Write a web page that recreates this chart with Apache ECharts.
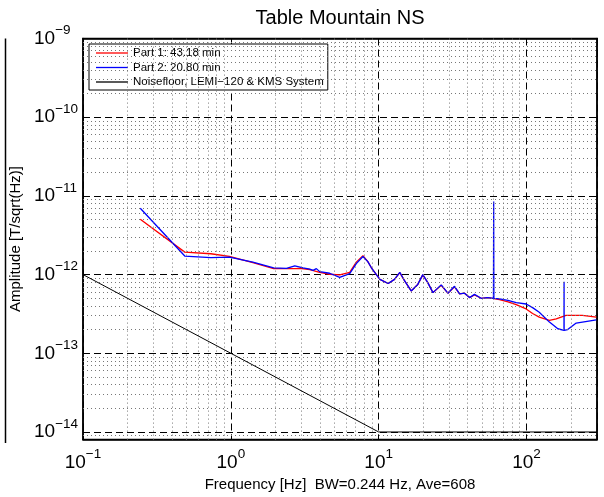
<!DOCTYPE html>
<html><head><meta charset="utf-8">
<script src="https://cdn.jsdelivr.net/npm/echarts@6/dist/echarts.min.js"></script>
<style>html,body{margin:0;padding:0;background:#fff}#c{width:604px;height:497px}</style>
</head><body><div id="c"></div>
<script>
const titleText = 'Table Mountain NS';
const xName = 'Frequency [Hz]  BW=0.244 Hz, Ave=608';
const yName = 'Amplitude [T/sqrt(Hz)]';
const seriesNames = ['Part 1: 43.18 min', 'Part 2: 20.80 min', 'Noisefloor, LEMI\u2212120 & KMS System'];
const seriesColors = ['#ff0000', '#0000ff', '#000000'];

// Part 1 (red): frequency [Hz], amplitude [1e-12 T/sqrt(Hz)]
const freq1 = [0.244,0.488,0.732,0.977,1.41,1.95,2.38,2.71,2.93,3.42,3.99,4.66,5.45,6.37,7.06,7.83,8.45,8.93,10.2,11.6,12.8,13.9,15.0,16.6,18.4,19.9,21.5,23.3,26.5,29.4,32.6,35.3,38.1,41.2,44.5,49.4,54.6,59.0,65.7,75,85.2,99.5,110,122,143,159,185,239,297];
const part1 = [5.06,1.93,1.84,1.70,1.42,1.19,1.19,1.19,1.20,1.16,1.07,1.01,0.99,1.07,1.44,1.74,1.46,1.22,0.87,0.77,0.87,1.06,0.83,0.62,0.75,0.99,0.79,0.59,0.73,0.58,0.70,0.57,0.58,0.51,0.55,0.50,0.51,0.50,0.48,0.45,0.415,0.366,0.32,0.288,0.262,0.274,0.303,0.303,0.288];

// Part 2 (blue)
const freq2 = [0.244,0.488,0.732,0.977,1.41,1.95,2.38,2.71,3.08,3.42,3.6,3.79,3.99,4.66,5.45,6.37,7.06,7.83,8.45,8.93,10.2,11.6,12.8,13.9,15.0,16.6,18.4,19.9,21.5,23.3,26.5,29.4,32.6,35.3,38.1,41.2,44.5,49.4,54.6,59.8,60.0,60.2,65.7,75,85.2,99.5,110,122,143,163,179.4,179.6,179.8,190,217,297];
const part2 = [6.96,1.72,1.64,1.67,1.44,1.22,1.20,1.29,1.22,1.17,1.13,1.19,1.09,1.04,0.92,1.03,1.38,1.70,1.46,1.22,0.87,0.77,0.87,1.07,0.83,0.62,0.75,1.00,0.79,0.59,0.74,0.58,0.71,0.57,0.58,0.51,0.56,0.50,0.51,0.50,8.5,0.50,0.49,0.47,0.44,0.423,0.38,0.333,0.249,0.205,0.196,0.81,0.196,0.20,0.242,0.266];

// Noise floor (black), amplitude in T/sqrt(Hz)
const freqNF = [0.1, 10, 300];
const noiseNF = [1e-12, 1e-14, 1e-14];

const xMin = 0.1, xMax = 300, yMin = 8e-15, yMax = 1e-9;

const UNIT = 1e-12;
const d1 = freq1.map((f, i) => [f, part1[i] * UNIT]);
const d2 = freq2.map((f, i) => [f, part2[i] * UNIT]);
const dNF = freqNF.map((f, i) => [f, noiseNF[i]]);

// minor grid positions (2..9 x 10^n)
const minorX = [], minorY = [];
for (let e = -1; e <= 2; e++) for (let k = 2; k <= 9; k++) { const v = k * Math.pow(10, e); if (v < xMax) minorX.push(v); }
for (let e = -15; e <= -10; e++) for (let k = 2; k <= 9; k++) { const v = k * Math.pow(10, e); if (v > yMin && v < yMax) minorY.push(v); }

function powLabel(v) {
  const l = Math.log10(v), e = Math.round(l);
  if (Math.abs(l - e) > 1e-6) return '';
  return '{b|10}{s|' + (e < 0 ? '\u2212' + (-e) : e) + '}';
}
const FONT = 'Liberation Sans';
const rich = {
  b: { fontSize: 19, fontFamily: FONT, color: '#000', lineHeight: 30 },
  s: { fontSize: 13.5, fontFamily: FONT, color: '#000', lineHeight: 10, verticalAlign: 'top' }
};

const minorLines = minorX.map(v => [{ coord: [v, yMin] }, { coord: [v, yMax] }])
  .concat(minorY.map(v => [{ coord: [xMin, v] }, { coord: [xMax, v] }]));

const chart = echarts.init(document.getElementById('c'), null, { renderer: 'canvas' });
const majorSplit = { show: true, lineStyle: { color: '#000', type: [7, 4], width: 1 } };
chart.setOption({
  animation: false,
  backgroundColor: '#fff',
  grid: { left: 83, right: 7, top: 38.5, bottom: 54, show: true, borderColor: '#000', borderWidth: 1.5, backgroundColor: 'transparent' },
  legend: {
    data: seriesNames, orient: 'vertical', left: 89, top: 44,
    backgroundColor: '#fff', borderColor: '#000', borderWidth: 1, borderRadius: 0,
    padding: [2, 4, 1, 7], icon: 'rect', itemWidth: 32, itemHeight: 1.3, itemGap: 0.5,
    textStyle: { fontSize: 11.5, fontFamily: FONT, color: '#000', lineHeight: 14 },
    selectedMode: false
  },
  graphic: [
    { type: 'text', x: 340, y: 18, style: { text: titleText, font: '20px "Liberation Sans"', fill: '#000', textAlign: 'center', textVerticalAlign: 'middle' } },
    { type: 'line', shape: { x1: 5.5, y1: 38.5, x2: 5.5, y2: 443 }, style: { stroke: '#000', lineWidth: 1.5 } }
  ],
  xAxis: [{
    type: 'log', logBase: 10, min: xMin, max: xMax,
    name: xName, nameLocation: 'middle', nameGap: 33,
    nameTextStyle: { fontSize: 15, fontFamily: FONT, color: '#000' },
    axisLine: { show: true, lineStyle: { color: '#000', width: 1.5 } },
    axisTick: { show: true, inside: true, length: 5, lineStyle: { color: '#000' } },
    axisLabel: { formatter: powLabel, rich: rich, margin: 8, showMinLabel: true, showMaxLabel: true, hideOverlap: false },
    splitLine: majorSplit
  }, {
    type: 'log', logBase: 10, min: xMin, max: xMax, position: 'top',
    axisLine: { show: true, lineStyle: { color: '#000', width: 1.5 } },
    axisTick: { show: true, inside: true, length: 5, lineStyle: { color: '#000' } },
    axisLabel: { show: false }, splitLine: { show: false }
  }],
  yAxis: [{
    type: 'log', logBase: 10, min: yMin, max: yMax,
    name: yName, nameLocation: 'middle', nameGap: 57,
    nameTextStyle: { fontSize: 15, fontFamily: FONT, color: '#000' },
    axisLine: { show: true, lineStyle: { color: '#000', width: 1.5 } },
    axisTick: { show: true, inside: true, length: 5, lineStyle: { color: '#000' } },
    axisLabel: { formatter: powLabel, rich: rich, margin: 49, align: 'left', hideOverlap: false },
    splitLine: majorSplit
  }, {
    type: 'log', logBase: 10, min: yMin, max: yMax, position: 'right',
    axisLine: { show: true, lineStyle: { color: '#000', width: 1.5 } },
    axisTick: { show: true, inside: true, length: 5, lineStyle: { color: '#000' } },
    axisLabel: { show: false }, splitLine: { show: false }
  }],
  series: [
    {
      name: 'minorGrid', type: 'line', data: [], silent: true, z: 1,
      markLine: {
        silent: true, symbol: ['none', 'none'], label: { show: false }, animation: false,
        lineStyle: { color: '#777', type: [1, 3], width: 1 },
        data: minorLines
      }
    },
    { name: seriesNames[0], type: 'line', data: d1, symbol: 'none', z: 3, lineStyle: { color: seriesColors[0], width: 1.3 }, itemStyle: { color: seriesColors[0] } },
    { name: seriesNames[1], type: 'line', data: d2, symbol: 'none', z: 4, lineStyle: { color: seriesColors[1], width: 1.3 }, itemStyle: { color: seriesColors[1] } },
    { name: seriesNames[2], type: 'line', data: dNF, symbol: 'none', z: 5, lineStyle: { color: seriesColors[2], width: 1 }, itemStyle: { color: seriesColors[2] } }
  ]
});
</script></body></html>
